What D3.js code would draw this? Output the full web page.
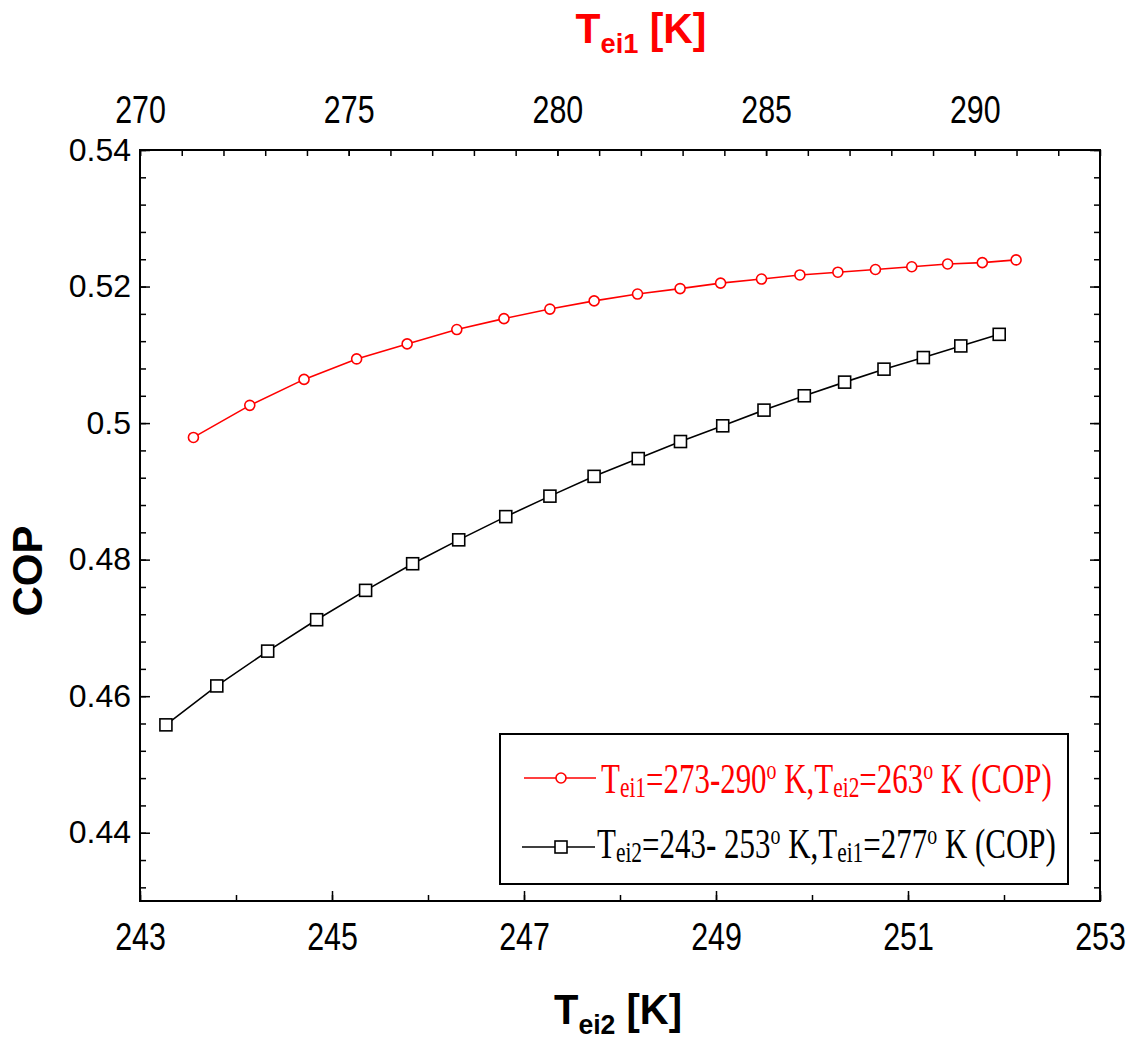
<!DOCTYPE html>
<html>
<head>
<meta charset="utf-8">
<script src="https://cdn.jsdelivr.net/npm/d3@7"></script>
<style>
  body { margin: 0; background: #fff; }
  svg { display: block; }
  .axis path { display: none; }
  .axis line { stroke: #000; stroke-width: 1.5; }
  .axis text { font-family: "Liberation Sans", Arial, sans-serif; fill: #000; }
</style>
</head>
<body>
<svg id="chart" width="1131" height="1041"></svg>
<script>
// Tei1 (top axis) vs COP, red circles
var teiTop = [271.28, 272.63, 273.93, 275.19, 276.40, 277.59, 278.72, 279.82, 280.88, 281.92,
	282.94, 283.91, 284.89, 285.81, 286.72, 287.62, 288.49, 289.35, 290.18, 290.99];
var copRed = [0.4979, 0.5026, 0.5064, 0.5094, 0.5116, 0.5137, 0.5153, 0.5167, 0.5179, 0.5189,
	0.5197, 0.5205, 0.5211, 0.5217, 0.5221, 0.5225, 0.5229, 0.5233, 0.5235, 0.5239];
// Tei2 (bottom axis) vs COP, black squares
var teiBottom = [243.27, 243.80, 244.33, 244.84, 245.35, 245.84, 246.32, 246.81, 247.27, 247.73,
	248.19, 248.63, 249.07, 249.50, 249.92, 250.34, 250.75, 251.16, 251.55, 251.95];
var copBlack = [0.4558, 0.4615, 0.4666, 0.4712, 0.4755, 0.4794, 0.4829, 0.4863, 0.4893, 0.4922,
	0.4948, 0.4973, 0.4996, 0.5019, 0.5040, 0.5060, 0.5079, 0.5096, 0.5113, 0.5130];

var bottomTicks = [243, 245, 247, 249, 251, 253];
var topTicks = [270, 275, 280, 285, 290];
var yTicks = [0.44, 0.46, 0.48, 0.5, 0.52, 0.54];

var margin = { top: 150, right: 31, bottom: 140, left: 140 },
	width = 1131 - margin.left - margin.right,
	height = 1041 - margin.top - margin.bottom;

var x = d3.scaleLinear().domain([243, 253]).range([0, width]);
var xTop = d3.scaleLinear().domain([270, 293]).range([0, width]);
var y = d3.scaleLinear().domain([0.43, 0.54]).range([height, 0]);

var svg = d3.select("#chart");
svg.append("rect").attr("width", 1131).attr("height", 1041).attr("fill", "#fff");
var g = svg.append("g").attr("transform", "translate(" + margin.left + "," + margin.top + ")");

// squeeze a text horizontally around its anchor so it fills w pixels
function fitWidth(t, ax, w) {
	var b = t.node().getBBox();
	var k = w / b.width;
	t.attr("transform", "translate(" + ax + ",0) scale(" + k + ",1) translate(" + (-ax) + ",0)");
}

// minor ticks
g.append("g").attr("class", "axis")
	.attr("transform", "translate(0," + height + ")")
	.call(d3.axisBottom(x).tickValues(d3.range(243, 253.5, 1)).tickSize(-6).tickFormat(""));
g.append("g").attr("class", "axis")
	.call(d3.axisTop(xTop).tickValues(d3.range(270, 293.5, 1)).tickSize(-6).tickFormat(""));
var yMinor = d3.range(0, 28).map(function (i) { return +(0.432 + i * 0.004).toFixed(3); });
g.append("g").attr("class", "axis")
	.call(d3.axisLeft(y).tickValues(yMinor).tickSize(-6).tickFormat(""));
g.append("g").attr("class", "axis")
	.attr("transform", "translate(" + width + ",0)")
	.call(d3.axisRight(y).tickValues(yMinor).tickSize(-6).tickFormat(""));

// major ticks + labels
var xb = g.append("g").attr("class", "axis")
	.attr("transform", "translate(0," + height + ")")
	.call(d3.axisBottom(x).tickValues(bottomTicks).tickSize(-10).tickPadding(22).tickFormat(d3.format("d")));
xb.selectAll("text").style("font-size", "38px").attr("transform", "scale(0.8,1)");

var xt = g.append("g").attr("class", "axis")
	.call(d3.axisTop(xTop).tickValues(topTicks).tickSize(-6).tickPadding(27).tickFormat(d3.format("d")));
xt.selectAll("text").style("font-size", "38px").attr("transform", "scale(0.8,1)");

var yl = g.append("g").attr("class", "axis")
	.call(d3.axisLeft(y).tickValues(yTicks).tickSize(-10).tickPadding(9)
		.tickFormat(function (d) { return String(+d.toFixed(2)); }));
yl.selectAll("text").style("font-size", "32px");

g.append("g").attr("class", "axis")
	.attr("transform", "translate(" + width + ",0)")
	.call(d3.axisRight(y).tickValues(yTicks).tickSize(-10).tickFormat(""));

// frame
g.append("rect")
	.attr("width", width)
	.attr("height", height)
	.attr("fill", "none")
	.attr("stroke", "#000")
	.attr("stroke-width", 2);

// axis titles
function subTitle(xp, yp, main, sub, rest, color) {
	var t = svg.append("text")
		.attr("x", xp).attr("y", yp)
		.attr("text-anchor", "middle")
		.style("font-family", "Liberation Sans, Arial, sans-serif")
		.style("font-weight", "bold")
		.style("font-size", "42px")
		.attr("fill", color);
	t.append("tspan").text(main);
	t.append("tspan").attr("dy", 10).style("font-size", "28px").text(sub);
	t.append("tspan").attr("dy", -10).text(rest);
	return t;
}
var topTitle = subTitle(641, 43, "T", "ei1", " [K]", "#ff0000");
fitWidth(topTitle, 641, 131);
var botTitle = subTitle(618, 1024, "T", "ei2", " [K]", "#000");
fitWidth(botTitle, 618, 128);

svg.append("text")
	.attr("transform", "translate(42,571) rotate(-90)")
	.attr("text-anchor", "middle")
	.style("font-family", "Liberation Sans, Arial, sans-serif")
	.style("font-weight", "bold")
	.style("font-size", "42px")
	.text("COP");

// series
var redData = teiTop.map(function (d, i) { return { t: d, c: copRed[i] }; });
var blackData = teiBottom.map(function (d, i) { return { t: d, c: copBlack[i] }; });

var redLine = d3.line().x(function (d) { return xTop(d.t); }).y(function (d) { return y(d.c); });
var blackLine = d3.line().x(function (d) { return x(d.t); }).y(function (d) { return y(d.c); });

g.append("path").attr("d", blackLine(blackData))
	.attr("fill", "none").attr("stroke", "#000").attr("stroke-width", 1.6);
g.selectAll("rect.sq").data(blackData).enter()
	.append("rect").attr("class", "sq")
	.attr("x", function (d) { return x(d.t) - 6; })
	.attr("y", function (d) { return y(d.c) - 6; })
	.attr("width", 12).attr("height", 12)
	.attr("fill", "#fff").attr("stroke", "#000").attr("stroke-width", 1.6);

g.append("path").attr("d", redLine(redData))
	.attr("fill", "none").attr("stroke", "#ff0000").attr("stroke-width", 1.6);
g.selectAll("circle.pt").data(redData).enter()
	.append("circle").attr("class", "pt")
	.attr("cx", function (d) { return xTop(d.t); })
	.attr("cy", function (d) { return y(d.c); })
	.attr("r", 5)
	.attr("fill", "#fff").attr("stroke", "#ff0000").attr("stroke-width", 1.6);

// legend
var lg = svg.append("g");
lg.append("rect")
	.attr("x", 500).attr("y", 734).attr("width", 568).attr("height", 150)
	.attr("fill", "#fff").attr("stroke", "#000").attr("stroke-width", 2);

function legendText(xp, yp, parts, color, w) {
	var t = lg.append("text")
		.attr("x", xp).attr("y", yp)
		.attr("fill", color)
		.style("font-family", "Liberation Serif, Times New Roman, serif")
		.style("font-size", "42px");
	var shift = 0;
	parts.forEach(function (p) {
		var s = t.append("tspan").text(p[0]);
		var target = p[1] === "sub" ? 4 : p[1] === "sup" ? -14 : 0;
		s.attr("dy", target - shift);
		shift = target;
		if (p[1]) s.style("font-size", p[1] === "sub" ? "29px" : "27px");
	});
	fitWidth(t, xp, w);
}

lg.append("line").attr("x1", 524).attr("x2", 596).attr("y1", 778).attr("y2", 778)
	.attr("stroke", "#ff0000").attr("stroke-width", 1.6);
lg.append("circle").attr("cx", 561).attr("cy", 778).attr("r", 5)
	.attr("fill", "#fff").attr("stroke", "#ff0000").attr("stroke-width", 1.6);
legendText(601, 793, [["T"], ["ei1", "sub"], ["=273-290"], ["o", "sup"], [" K,T"], ["ei2", "sub"],
	["=263"], ["o", "sup"], [" K (COP)"]], "#ff0000", 451);

lg.append("line").attr("x1", 522).attr("x2", 595).attr("y1", 847).attr("y2", 847)
	.attr("stroke", "#000").attr("stroke-width", 1.6);
lg.append("rect").attr("x", 555).attr("y", 841).attr("width", 12).attr("height", 12)
	.attr("fill", "#fff").attr("stroke", "#000").attr("stroke-width", 1.6);
legendText(597, 858, [["T"], ["ei2", "sub"], ["=243- 253"], ["o", "sup"], [" K,T"], ["ei1", "sub"],
	["=277"], ["o", "sup"], [" K (COP)"]], "#000", 459);
</script>
</body>
</html>
